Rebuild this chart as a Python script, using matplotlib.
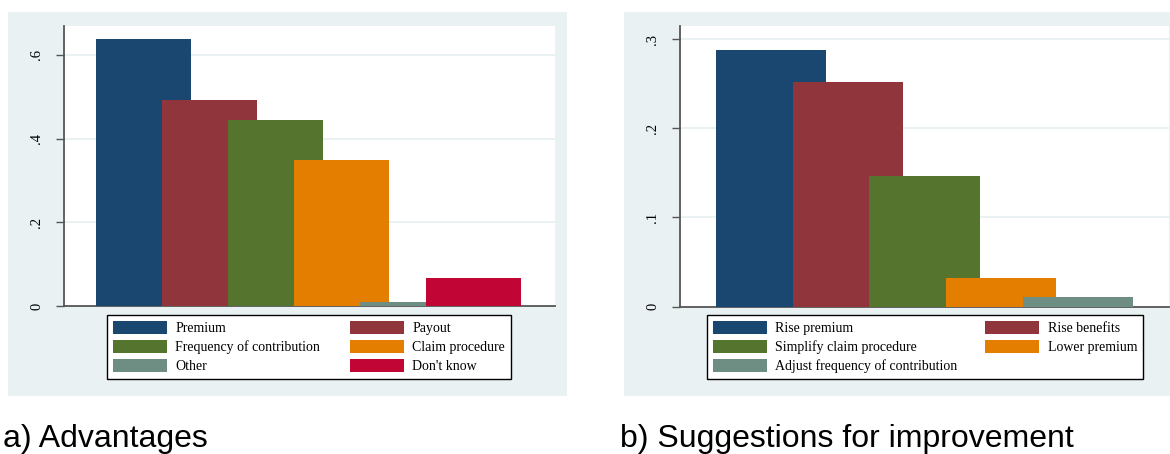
import matplotlib.pyplot as plt
from matplotlib.patches import Rectangle, Patch

# data
adv_labels = ["Premium", "Payout", "Frequency of contribution",
              "Claim procedure", "Other", "Don't know"]
adv_values = [0.638, 0.492, 0.445, 0.349, 0.010, 0.068]
adv_ticks = [0, 0.2, 0.4, 0.6]
adv_ticklabels = ["0", ".2", ".4", ".6"]

sug_labels = ["Rise premium", "Rise benefits", "Simplify claim procedure",
              "Lower premium", "Adjust frequency of contribution"]
sug_values = [0.288, 0.252, 0.146, 0.032, 0.011]
sug_ticks = [0, 0.1, 0.2, 0.3]
sug_ticklabels = ["0", ".1", ".2", ".3"]

# stata s2color palette
palette = ["#1a476f", "#90353b", "#55752f", "#e37e00", "#6e8e84", "#c10534"]
bg = "#e9f1f2"

W, H = 1170, 454
serif = "Liberation Serif"
sans = "Liberation Sans"


def frect(x0, y0, x1, y1):
    # pixel box (top-left origin) -> figure fraction rect
    return [x0 / W, 1 - y1 / H, (x1 - x0) / W, (y1 - y0) / H]


def panel(fig, box, axrect, legrect, labels, values, ticks, ticklabels,
          xlim, ylim, caption, cappos):
    b = frect(*box)
    fig.patches.append(Rectangle((b[0], b[1]), b[2], b[3], transform=fig.transFigure,
                                 facecolor=bg, edgecolor="none", zorder=-10))
    ax = fig.add_axes(frect(*axrect))
    ax.set_facecolor("white")
    x = list(range(len(values)))
    cols = palette[:len(values)]
    ax.bar(x, values, width=1.44, color=cols, edgecolor="none", zorder=3)
    ax.set_xlim(*xlim)
    ax.set_ylim(*ylim)
    ax.set_xticks([])
    ax.set_yticks(ticks)
    ax.set_yticklabels(ticklabels, rotation=90, va="center",
                       family=serif, fontsize=10.5)
    ax.tick_params(axis="y", length=6, width=1, color="#555555", pad=9)
    for t in ticks[1:]:
        ax.axhline(t, color="#e6eff0", lw=1.2, zorder=1)
    for s in ["top", "right"]:
        ax.spines[s].set_visible(False)
    for s in ["left", "bottom"]:
        ax.spines[s].set_color("#555555")
        ax.spines[s].set_linewidth(1.3)

    handles = [Patch(facecolor=c, edgecolor="none") for c in cols]
    # matplotlib fills columns first, stata fills rows first
    order = list(range(0, len(values), 2)) + list(range(1, len(values), 2))
    r = frect(*legrect)
    leg = ax.legend([handles[i] for i in order], [labels[i] for i in order],
                    ncol=2, loc="upper left", mode="expand",
                    bbox_to_anchor=(r[0], r[1], r[2], r[3]),
                    bbox_transform=fig.transFigure, borderaxespad=0,
                    prop={"family": serif, "size": 10},
                    handlelength=3.9, handleheight=1.05, handletextpad=0.6,
                    labelspacing=0.36, borderpad=0.42, fancybox=False,
                    framealpha=1, edgecolor="black")
    leg.get_frame().set_linewidth(1.0)

    fig.text(cappos[0] / W, 1 - cappos[1] / H, caption, family=sans,
             fontsize=23, ha="left", va="baseline")
    return ax


fig = plt.figure(figsize=(W / 100, H / 100), dpi=100)
fig.patch.set_facecolor("white")

panel(fig, (8, 12, 567, 396), (64, 26, 555, 306), (107, 315, 511, 378),
      adv_labels, adv_values, adv_ticks, adv_ticklabels,
      (-1.21, 6.23), (0, 0.669), "a) Advantages", (3, 447))
panel(fig, (624, 12, 1180, 396), (680, 26, 1169, 306.5), (707, 315, 1143, 378),
      sug_labels, sug_values, sug_ticks, sug_ticklabels,
      (-1.19, 5.19), (0, 0.315), "b) Suggestions for improvement", (620, 447))

fig.savefig("out.png", dpi=100)
